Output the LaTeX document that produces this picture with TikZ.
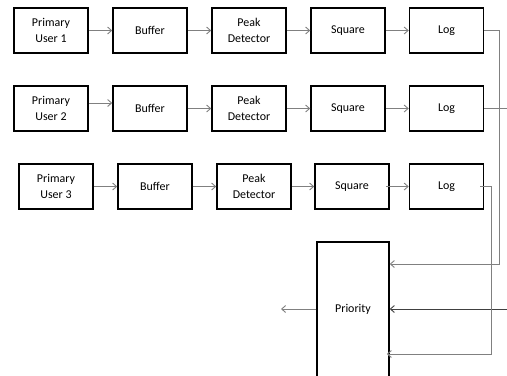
\documentclass[tikz,border=0pt]{standalone}
\usepackage{fontspec}
\setmainfont{Carlito}
\usetikzlibrary{arrows.meta}
\definecolor{lg}{HTML}{808080}
\tikzset{
  blk/.style={draw=black, line width=1.5bp, minimum width=74bp, minimum height=45bp, inner sep=0pt, align=center, font=\fontsize{12}{16}\selectfont},
  arr/.style={draw=lg, line width=0.9bp, -{Straight Barb[length=4bp,width=7bp]}},
  ln/.style={draw=lg, line width=0.9bp}
}
\begin{document}
\begin{tikzpicture}[x=1bp,y=-1bp]
\useasboundingbox (0,0) rectangle (507,375);
% row 1
\node[blk] (pu1) at (51,30.5) {Primary\\User 1};
\node[blk] (b1) at (150,30.5) {Buffer};
\node[blk] (p1) at (249,30.5) {Peak\\Detector};
\node[blk] (s1) at (348,30.5) {Square};
\node[blk] (l1) at (446.5,30.5) {Log};
% row 2
\node[blk] (pu2) at (51,108.5) {Primary\\User 2};
\node[blk] (b2) at (150,108.5) {Buffer};
\node[blk] (p2) at (249,108.5) {Peak\\Detector};
\node[blk] (s2) at (348,108.5) {Square};
\node[blk] (l2) at (446.5,108.5) {Log};
% row 3
\node[blk] (pu3) at (56,186.5) {Primary\\User 3};
\node[blk] (b3) at (155,186.5) {Buffer};
\node[blk] (p3) at (254,186.5) {Peak\\Detector};
\node[blk] (s3) at (352,186.5) {Square};
\node[blk] (l3) at (446.5,186.5) {Log};
% priority
\node[blk, minimum width=72bp, minimum height=136bp] (pr) at (353,310) {};
\node[font=\fontsize{12}{16}\selectfont] (prt) at (353,309) {Priority};
\coordinate (c1) at (499,30.5);
\coordinate (c1b) at (499,264);
\coordinate (c2) at (507,108.5);
\coordinate (c2b) at (507,309);
\coordinate (c3) at (491,186.5);
\coordinate (c3b) at (491,354);
\coordinate (out) at (281,309);
% arrows row 1
\draw[arr] (pu1) -- (b1);
\draw[arr] (b1) -- (p1);
\draw[arr] (p1) -- (s1);
\draw[arr] (s1) -- (l1);
% row 2
\draw[arr] ([yshift=5.5bp]pu2.east) -- ([yshift=5.5bp]b2.west);
\draw[arr] (b2) -- (p2);
\draw[arr] (p2) -- (s2);
\draw[arr] (s2) -- (l2);
% row 3
\draw[arr] (pu3) -- (b3);
\draw[arr] (b3) -- (p3);
\draw[arr] (p3) -- (s3);
\draw[arr] ([xshift=-4bp]s3.east) -- (l3);
% to priority
\draw[arr] (l1.east) -- (c1) -- (c1b) -- (c1b -| pr.east);
\draw[ln] (l2.east) -- (c2);
\draw[arr, draw=black!75] (c2b) -- (c2b -| pr.east);
\draw[arr] ([xshift=-4bp]l3.east) -- (c3) -- (c3b) -- ([xshift=-3bp]c3b -| pr.east);
\draw[arr] (pr.west |- out) -- (out);
\end{tikzpicture}
\end{document}
